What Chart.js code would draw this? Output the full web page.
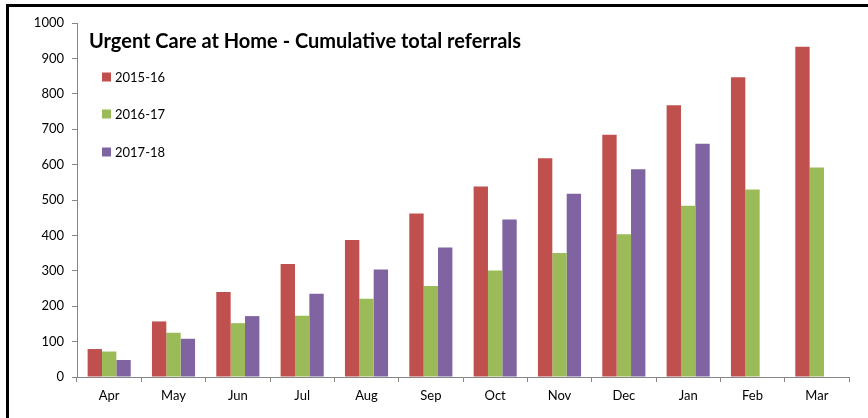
<!DOCTYPE html>
<html>
<head>
<meta charset="utf-8">
<script src="https://cdn.jsdelivr.net/npm/chart.js@4"></script>
<style>
  html, body { margin: 0; padding: 0; background: #fff; }
  #wrap { width: 868px; height: 418px; }
</style>
</head>
<body>
<div id="wrap"><canvas id="myChart" width="868" height="418"></canvas></div>
<script>
const months = ['Apr','May','Jun','Jul','Aug','Sep','Oct','Nov','Dec','Jan','Feb','Mar']
const y1516 = [79,157,240,319,387,462,538,618,684,768,847,933]
const y1617 = [72,125,152,173,221,257,301,350,403,484,530,592]
const y1718 = [48,108,172,235,304,366,445,518,587,659,null,null]
const yTicks = [0,100,200,300,400,500,600,700,800,900,1000]
const titleText = 'Urgent Care at Home - Cumulative total referrals'

const font = 'Lato, "Open Sans", sans-serif'
const axisGrey = '#868686'

// frame, title and legend drawn inside the plot area
const extras = {
  id: 'extras',
  afterDraw(chart) {
    const c = chart.ctx
    c.save()
    c.strokeStyle = '#000'
    c.lineWidth = 3
    c.beginPath()
    c.moveTo(7.5, 418)
    c.lineTo(7.5, 5.5)
    c.lineTo(868, 5.5)
    c.stroke()

    c.fillStyle = '#000'
    c.font = 'bold 20px ' + font
    c.textBaseline = 'middle'
    c.fillText(titleText, 89, 42)

    c.font = '13px ' + font
    const rows = [77, 114, 152]
    chart.data.datasets.forEach((ds, i) => {
      c.fillStyle = ds.backgroundColor
      c.fillRect(102, rows[i] - 4.5, 9, 9)
      c.fillStyle = '#000'
      c.fillText(ds.label, 115, rows[i] + 1)
    })
    c.restore()
  }
}

new Chart(document.getElementById('myChart'), {
  type: 'bar',
  data: {
    labels: months,
    datasets: [
      { label: '2015-16', data: y1516, backgroundColor: '#C0504D' },
      { label: '2016-17', data: y1617, backgroundColor: '#9BBB59' },
      { label: '2017-18', data: y1718, backgroundColor: '#8064A2' }
    ]
  },
  options: {
    responsive: false,
    animation: false,
    layout: { padding: { top: 23, right: 19, left: 0, bottom: 0 } },
    datasets: { bar: { categoryPercentage: 0.67, barPercentage: 1 } },
    plugins: { legend: { display: false }, title: { display: false }, tooltip: { enabled: false } },
    scales: {
      x: {
        offset: true,
        afterFit(s) { s.height = 41 },
        grid: { offset: true, drawOnChartArea: false, color: axisGrey, tickLength: 5 },
        border: { color: axisGrey },
        ticks: { color: '#000', font: { family: font, size: 13 }, padding: 6 }
      },
      y: {
        min: 0,
        max: 1000,
        afterFit(s) { s.width = 77 },
        afterBuildTicks(s) { s.ticks = yTicks.map(v => ({ value: v })) },
        grid: { drawOnChartArea: false, color: axisGrey, tickLength: 5 },
        border: { color: axisGrey },
        ticks: { color: '#000', font: { family: font, size: 13 }, padding: 8, callback: v => String(v) }
      }
    }
  },
  plugins: [extras]
})
</script>
</body>
</html>
